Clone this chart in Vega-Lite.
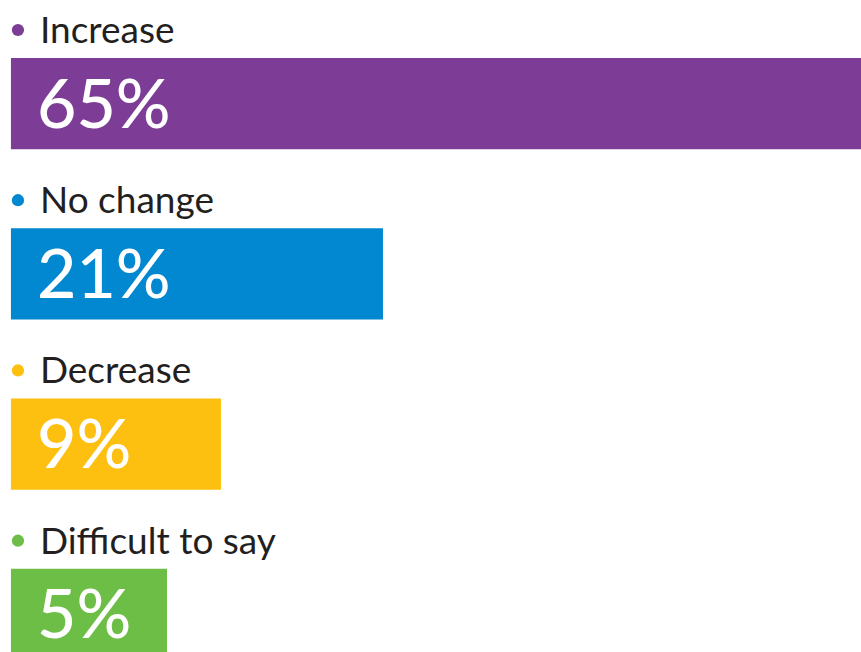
{
  "$schema": "https://vega.github.io/schema/vega-lite/v6.json",
  "width": 861,
  "height": 652,
  "autosize": {"type": "none"},
  "padding": 0,
  "background": "white",
  "config": {"view": {"stroke": null}},
  "data": {"values": [
    {"category": "Increase", "value": 65, "label": "65%"},
    {"category": "No change", "value": 21, "label": "21%"},
    {"category": "Decrease", "value": 9, "label": "9%"},
    {"category": "Difficult to say", "value": 5, "label": "5%"}
  ]},
  "encoding": {
    "y": {"field": "category", "type": "nominal", "sort": null, "axis": null,
      "scale": {"range": [58, 660], "paddingInner": 0.464, "paddingOuter": 0}},
    "color": {"field": "category", "type": "nominal", "legend": null,
      "scale": {"domain": ["Increase", "No change", "Decrease", "Difficult to say"],
        "range": ["#7D3C96", "#0288D0", "#FDC010", "#6DBE46"]}}
  },
  "layer": [
    {
      "mark": {"type": "bar", "clip": true, "cornerRadius": 0},
      "encoding": {
        "x": {"field": "value", "type": "quantitative", "axis": null,
          "scale": {"domain": [-7.37, 56.41], "nice": false, "zero": false}},
        "x2": {"datum": -6.56}
      }
    },
    {
      "mark": {"type": "circle", "size": 150, "opacity": 1},
      "encoding": {
        "x": {"datum": -6.04, "type": "quantitative"},
        "y": {"field": "category", "type": "nominal", "sort": null, "bandPosition": 0},
        "yOffset": {"value": -28}
      }
    },
    {
      "mark": {"type": "text", "align": "left", "baseline": "alphabetic", "dy": -15, "font": "Lato", "fontSize": 37, "color": "#231F20"},
      "encoding": {
        "x": {"datum": -4.41, "type": "quantitative"},
        "y": {"field": "category", "type": "nominal", "sort": null, "bandPosition": 0},
        "text": {"field": "category"},
        "color": {"value": "#231F20"}
      }
    },
    {
      "mark": {"type": "text", "align": "left", "baseline": "alphabetic", "dy": 24, "font": "Lato", "fontSize": 68, "fontWeight": 500},
      "encoding": {
        "x": {"datum": -4.63, "type": "quantitative"},
        "text": {"field": "label"},
        "color": {"value": "white"}
      }
    }
  ]
}
